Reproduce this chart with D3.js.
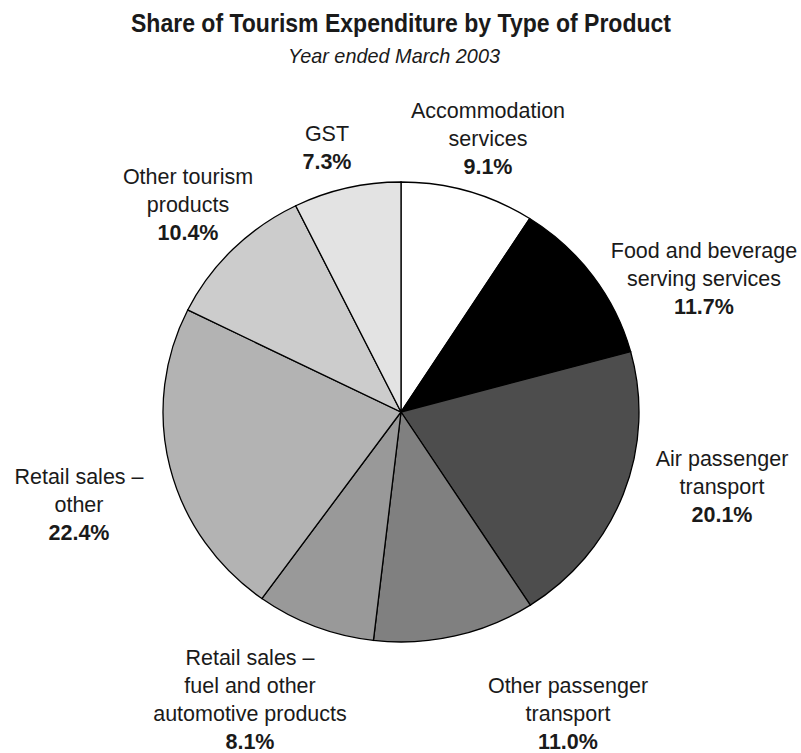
<!DOCTYPE html>
<html>
<head>
<meta charset="utf-8">
<script src="https://cdn.jsdelivr.net/npm/d3@7"></script>
<style>
  html, body { margin: 0; padding: 0; background: #fff; }
  svg { display: block; }
  text { font-family: "Liberation Sans", Arial, Helvetica, sans-serif; fill: #1a1a1a; }
</style>
</head>
<body>
<svg id="chart" width="801" height="753"></svg>
<script>
// Product categories, clockwise from 12 o'clock
const categories = [
  ["Accommodation", "services"],
  ["Food and beverage", "serving services"],
  ["Air passenger", "transport"],
  ["Other passenger", "transport"],
  ["Retail sales \u2013", "fuel and other", "automotive products"],
  ["Retail sales \u2013", "other"],
  ["Other tourism", "products"],
  ["GST"]
];
// Share of tourism expenditure (%)
const shares = [9.1, 11.7, 20.1, 11.0, 8.1, 22.4, 10.4, 7.3];
// Slice fills
const fills = ["#ffffff", "#000000", "#4d4d4d", "#808080", "#999999", "#b3b3b3", "#cccccc", "#e3e3e3"];

const title = "Share of Tourism Expenditure by Type of Product";
const subtitle = "Year ended March 2003";

// Label block anchors: centre x and first baseline
const labelAnchors = [
  [488, 118], [704, 258], [722, 466], [568, 693],
  [250, 665], [79, 484], [188, 184], [327, 141]
];

const svg = d3.select("#chart");

svg.append("text")
  .attr("x", 401).attr("y", 32)
  .attr("text-anchor", "middle")
  .attr("font-size", 25).attr("font-weight", "bold")
  .attr("textLength", 540).attr("lengthAdjust", "spacingAndGlyphs")
  .text(title);

svg.append("text")
  .attr("x", 394).attr("y", 63)
  .attr("text-anchor", "middle")
  .attr("font-size", 21).attr("font-style", "italic")
  .attr("textLength", 212).attr("lengthAdjust", "spacingAndGlyphs")
  .text(subtitle);

// Pie, drawn slightly flattened vertically
const cx = 401, cy = 412, rx = 238, ry = 230;
const pie = d3.pie().sort(null).value(d => d)(shares);
const arc = d3.arc().innerRadius(0).outerRadius(rx);

const g = svg.append("g")
  .attr("transform", `translate(${cx},${cy}) scale(1,${ry / rx})`);

g.selectAll("path")
  .data(pie)
  .join("path")
  .attr("d", arc)
  .attr("fill", (d, i) => fills[i])
  .attr("stroke", "#000")
  .attr("stroke-width", 1.3)
  .attr("vector-effect", "non-scaling-stroke");

// Labels: category lines followed by the bold share
const lineH = 28;
const labels = svg.append("g");
categories.forEach((lines, i) => {
  const [x, y] = labelAnchors[i];
  const t = labels.append("text")
    .attr("text-anchor", "middle")
    .attr("font-size", 21.5);
  lines.forEach((ln, j) => {
    t.append("tspan").attr("x", x).attr("y", y + j * lineH).text(ln);
  });
  t.append("tspan")
    .attr("x", x).attr("y", y + lines.length * lineH)
    .attr("font-weight", "bold")
    .text(shares[i].toFixed(1) + "%");
});
</script>
</body>
</html>
